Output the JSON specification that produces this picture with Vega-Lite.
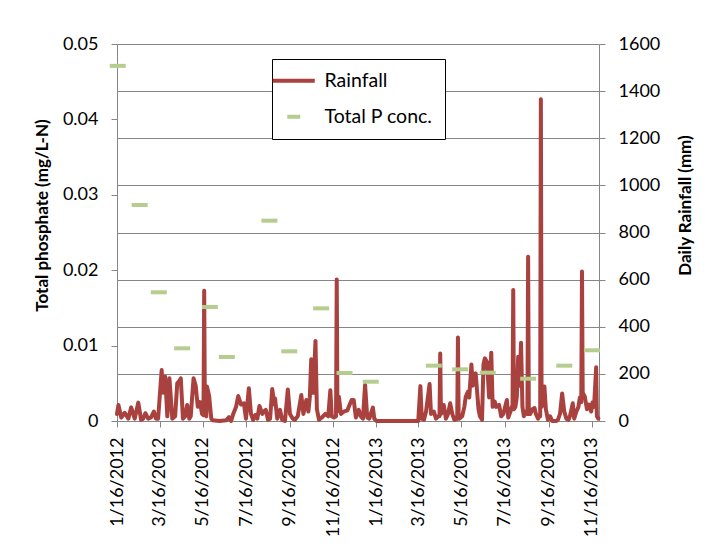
{
  "$schema": "https://vega.github.io/schema/vega-lite/v6.json",
  "autosize": {"type": "none"},
  "padding": {"left": 117, "top": 44, "right": 116, "bottom": 136},
  "width": 482,
  "height": 377,
  "background": "white",
  "config": {
    "font": "Lato",
    "view": {"stroke": null},
    "axis": {"domainColor": "#868686", "tickColor": "#868686", "labelColor": "black", "titleColor": "black", "labelFont": "Lato", "titleFont": "Lato", "labelFontSize": 18, "titleFontSize": 17, "titleFontWeight": "bold", "tickSize": 6, "grid": false}
  },
  "datasets": {
    "rain": [
      {"date": "2012-01-16", "rain": 30}, {"date": "2012-01-18", "rain": 68}, {"date": "2012-01-22", "rain": 15}, {"date": "2012-01-27", "rain": 35},
      {"date": "2012-02-01", "rain": 10}, {"date": "2012-02-05", "rain": 58}, {"date": "2012-02-10", "rain": 10}, {"date": "2012-02-15", "rain": 78},
      {"date": "2012-02-19", "rain": 5}, {"date": "2012-02-22", "rain": 10}, {"date": "2012-02-25", "rain": 33}, {"date": "2012-02-29", "rain": 10},
      {"date": "2012-03-04", "rain": 15}, {"date": "2012-03-08", "rain": 40}, {"date": "2012-03-11", "rain": 10}, {"date": "2012-03-14", "rain": 10},
      {"date": "2012-03-19", "rain": 216}, {"date": "2012-03-21", "rain": 120}, {"date": "2012-03-24", "rain": 188}, {"date": "2012-03-27", "rain": 20},
      {"date": "2012-03-30", "rain": 181}, {"date": "2012-04-03", "rain": 10}, {"date": "2012-04-07", "rain": 20}, {"date": "2012-04-10", "rain": 160},
      {"date": "2012-04-13", "rain": 170}, {"date": "2012-04-15", "rain": 181}, {"date": "2012-04-18", "rain": 10}, {"date": "2012-04-21", "rain": 20},
      {"date": "2012-04-24", "rain": 68}, {"date": "2012-04-27", "rain": 10}, {"date": "2012-04-29", "rain": 20}, {"date": "2012-05-03", "rain": 181},
      {"date": "2012-05-06", "rain": 150}, {"date": "2012-05-09", "rain": 60}, {"date": "2012-05-12", "rain": 80}, {"date": "2012-05-15", "rain": 30},
      {"date": "2012-05-17", "rain": 25}, {"date": "2012-05-18", "rain": 553}, {"date": "2012-05-19", "rain": 30}, {"date": "2012-05-21", "rain": 20},
      {"date": "2012-05-22", "rain": 146}, {"date": "2012-05-25", "rain": 106}, {"date": "2012-05-28", "rain": 10}, {"date": "2012-05-30", "rain": 3},
      {"date": "2012-06-09", "rain": 0}, {"date": "2012-06-18", "rain": 3}, {"date": "2012-06-22", "rain": 16}, {"date": "2012-06-25", "rain": 0},
      {"date": "2012-06-28", "rain": 30}, {"date": "2012-07-02", "rain": 60}, {"date": "2012-07-05", "rain": 106}, {"date": "2012-07-09", "rain": 70},
      {"date": "2012-07-13", "rain": 75}, {"date": "2012-07-16", "rain": 10}, {"date": "2012-07-20", "rain": 139}, {"date": "2012-07-23", "rain": 30},
      {"date": "2012-07-26", "rain": 5}, {"date": "2012-07-29", "rain": 25}, {"date": "2012-08-01", "rain": 10}, {"date": "2012-08-04", "rain": 64},
      {"date": "2012-08-08", "rain": 30}, {"date": "2012-08-10", "rain": 40}, {"date": "2012-08-13", "rain": 47}, {"date": "2012-08-16", "rain": 5},
      {"date": "2012-08-19", "rain": 10}, {"date": "2012-08-22", "rain": 136}, {"date": "2012-08-25", "rain": 70}, {"date": "2012-08-26", "rain": 96},
      {"date": "2012-08-29", "rain": 10}, {"date": "2012-09-02", "rain": 47}, {"date": "2012-09-05", "rain": 5}, {"date": "2012-09-09", "rain": 0},
      {"date": "2012-09-13", "rain": 134}, {"date": "2012-09-16", "rain": 30}, {"date": "2012-09-20", "rain": 10}, {"date": "2012-09-23", "rain": 5},
      {"date": "2012-09-27", "rain": 20}, {"date": "2012-10-02", "rain": 110}, {"date": "2012-10-05", "rain": 30}, {"date": "2012-10-09", "rain": 89},
      {"date": "2012-10-12", "rain": 40}, {"date": "2012-10-14", "rain": 100}, {"date": "2012-10-16", "rain": 262}, {"date": "2012-10-19", "rain": 120},
      {"date": "2012-10-22", "rain": 340}, {"date": "2012-10-24", "rain": 50}, {"date": "2012-10-27", "rain": 5}, {"date": "2012-10-31", "rain": 15},
      {"date": "2012-11-05", "rain": 30}, {"date": "2012-11-09", "rain": 20}, {"date": "2012-11-12", "rain": 131}, {"date": "2012-11-14", "rain": 20},
      {"date": "2012-11-17", "rain": 15}, {"date": "2012-11-20", "rain": 20}, {"date": "2012-11-21", "rain": 601}, {"date": "2012-11-22", "rain": 40},
      {"date": "2012-11-24", "rain": 103}, {"date": "2012-11-27", "rain": 30}, {"date": "2012-12-01", "rain": 40}, {"date": "2012-12-06", "rain": 45},
      {"date": "2012-12-08", "rain": 60}, {"date": "2012-12-12", "rain": 89}, {"date": "2012-12-15", "rain": 89}, {"date": "2012-12-18", "rain": 15},
      {"date": "2012-12-22", "rain": 47}, {"date": "2012-12-25", "rain": 20}, {"date": "2012-12-28", "rain": 10}, {"date": "2012-12-31", "rain": 153},
      {"date": "2013-01-03", "rain": 15}, {"date": "2013-01-06", "rain": 10}, {"date": "2013-01-08", "rain": 30}, {"date": "2013-01-11", "rain": 57},
      {"date": "2013-01-13", "rain": 10}, {"date": "2013-01-16", "rain": 0}, {"date": "2013-02-11", "rain": 0}, {"date": "2013-03-16", "rain": 0},
      {"date": "2013-03-19", "rain": 148}, {"date": "2013-03-21", "rain": 10}, {"date": "2013-03-24", "rain": 5}, {"date": "2013-03-27", "rain": 40},
      {"date": "2013-04-01", "rain": 157}, {"date": "2013-04-03", "rain": 30}, {"date": "2013-04-07", "rain": 40}, {"date": "2013-04-10", "rain": 10},
      {"date": "2013-04-13", "rain": 20}, {"date": "2013-04-15", "rain": 20}, {"date": "2013-04-16", "rain": 287}, {"date": "2013-04-17", "rain": 30},
      {"date": "2013-04-19", "rain": 40}, {"date": "2013-04-21", "rain": 68}, {"date": "2013-04-24", "rain": 10}, {"date": "2013-04-27", "rain": 30},
      {"date": "2013-04-30", "rain": 75}, {"date": "2013-05-03", "rain": 30}, {"date": "2013-05-06", "rain": 5}, {"date": "2013-05-10", "rain": 10},
      {"date": "2013-05-11", "rain": 354}, {"date": "2013-05-12", "rain": 10}, {"date": "2013-05-13", "rain": 10}, {"date": "2013-05-17", "rain": 20},
      {"date": "2013-05-20", "rain": 60}, {"date": "2013-05-22", "rain": 103}, {"date": "2013-05-25", "rain": 124}, {"date": "2013-05-27", "rain": 100},
      {"date": "2013-05-30", "rain": 240}, {"date": "2013-06-01", "rain": 150}, {"date": "2013-06-05", "rain": 202}, {"date": "2013-06-09", "rain": 50},
      {"date": "2013-06-11", "rain": 20}, {"date": "2013-06-14", "rain": 5}, {"date": "2013-06-16", "rain": 240}, {"date": "2013-06-18", "rain": 266},
      {"date": "2013-06-21", "rain": 250}, {"date": "2013-06-24", "rain": 100}, {"date": "2013-06-27", "rain": 290}, {"date": "2013-06-29", "rain": 60},
      {"date": "2013-07-02", "rain": 82}, {"date": "2013-07-04", "rain": 60}, {"date": "2013-07-08", "rain": 68}, {"date": "2013-07-11", "rain": 20},
      {"date": "2013-07-14", "rain": 30}, {"date": "2013-07-19", "rain": 89}, {"date": "2013-07-21", "rain": 15}, {"date": "2013-07-24", "rain": 40},
      {"date": "2013-07-26", "rain": 60}, {"date": "2013-07-27", "rain": 50}, {"date": "2013-07-28", "rain": 556}, {"date": "2013-07-29", "rain": 50},
      {"date": "2013-07-31", "rain": 60}, {"date": "2013-08-02", "rain": 100}, {"date": "2013-08-04", "rain": 273}, {"date": "2013-08-06", "rain": 150},
      {"date": "2013-08-08", "rain": 332}, {"date": "2013-08-10", "rain": 60}, {"date": "2013-08-12", "rain": 20}, {"date": "2013-08-15", "rain": 40},
      {"date": "2013-08-17", "rain": 30}, {"date": "2013-08-18", "rain": 697}, {"date": "2013-08-19", "rain": 30}, {"date": "2013-08-21", "rain": 30},
      {"date": "2013-08-24", "rain": 50}, {"date": "2013-08-27", "rain": 55}, {"date": "2013-08-29", "rain": 30}, {"date": "2013-09-01", "rain": 10},
      {"date": "2013-09-03", "rain": 20}, {"date": "2013-09-04", "rain": 20}, {"date": "2013-09-05", "rain": 1366}, {"date": "2013-09-06", "rain": 60},
      {"date": "2013-09-08", "rain": 100}, {"date": "2013-09-10", "rain": 146}, {"date": "2013-09-12", "rain": 50}, {"date": "2013-09-15", "rain": 5},
      {"date": "2013-09-18", "rain": 20}, {"date": "2013-09-21", "rain": 0}, {"date": "2013-09-27", "rain": 0}, {"date": "2013-09-29", "rain": 5},
      {"date": "2013-10-02", "rain": 30}, {"date": "2013-10-05", "rain": 117}, {"date": "2013-10-08", "rain": 40}, {"date": "2013-10-11", "rain": 10},
      {"date": "2013-10-14", "rain": 5}, {"date": "2013-10-16", "rain": 20}, {"date": "2013-10-20", "rain": 75}, {"date": "2013-10-22", "rain": 10},
      {"date": "2013-10-25", "rain": 40}, {"date": "2013-10-28", "rain": 60}, {"date": "2013-10-30", "rain": 100}, {"date": "2013-11-01", "rain": 80},
      {"date": "2013-11-02", "rain": 634}, {"date": "2013-11-03", "rain": 120}, {"date": "2013-11-06", "rain": 103}, {"date": "2013-11-09", "rain": 50},
      {"date": "2013-11-12", "rain": 70}, {"date": "2013-11-15", "rain": 40}, {"date": "2013-11-17", "rain": 80}, {"date": "2013-11-19", "rain": 60},
      {"date": "2013-11-22", "rain": 228}, {"date": "2013-11-23", "rain": 20}, {"date": "2013-11-25", "rain": 10}
    ],
    "phos": [
      {"date": "2012-01-17", "tp": 0.0471}, {"date": "2012-02-17", "tp": 0.02865}, {"date": "2012-03-15", "tp": 0.01707},
      {"date": "2012-04-17", "tp": 0.00964}, {"date": "2012-05-26", "tp": 0.01512}, {"date": "2012-06-19", "tp": 0.00849},
      {"date": "2012-08-18", "tp": 0.02657}, {"date": "2012-09-15", "tp": 0.00924}, {"date": "2012-10-30", "tp": 0.01494},
      {"date": "2012-12-02", "tp": 0.00637}, {"date": "2013-01-08", "tp": 0.00521}, {"date": "2013-04-07", "tp": 0.00734},
      {"date": "2013-05-14", "tp": 0.00685}, {"date": "2013-06-22", "tp": 0.00641}, {"date": "2013-08-18", "tp": 0.00561},
      {"date": "2013-10-08", "tp": 0.00734}, {"date": "2013-11-16", "tp": 0.00938}
    ]
  },
  "encoding": {
    "x": {
      "field": "date",
      "type": "temporal",
      "scale": {"type": "utc", "domain": [{"year": 2012, "month": 1, "date": 16, "utc": true}, {"year": 2013, "month": 11, "date": 26, "utc": true}]},
      "axis": {
        "title": null,
        "values": [
          {"year": 2012, "month": 1, "date": 16, "utc": true}, {"year": 2012, "month": 3, "date": 16, "utc": true},
          {"year": 2012, "month": 5, "date": 16, "utc": true}, {"year": 2012, "month": 7, "date": 16, "utc": true},
          {"year": 2012, "month": 9, "date": 16, "utc": true}, {"year": 2012, "month": 11, "date": 16, "utc": true},
          {"year": 2013, "month": 1, "date": 16, "utc": true}, {"year": 2013, "month": 3, "date": 16, "utc": true},
          {"year": 2013, "month": 5, "date": 16, "utc": true}, {"year": 2013, "month": 7, "date": 16, "utc": true},
          {"year": 2013, "month": 9, "date": 16, "utc": true}, {"year": 2013, "month": 11, "date": 16, "utc": true}
        ],
        "labelExpr": "utcFormat(datum.value, '%-m/%-d/%Y')",
        "labelAngle": 270,
        "labelAlign": "right",
        "labelBaseline": "middle",
        "labelPadding": 10,
        "labelOverlap": false,
        "labelFlush": false
      }
    }
  },
  "layer": [
    {
      "data": {"name": "rain"},
      "mark": {"type": "line", "strokeWidth": 4, "strokeJoin": "round", "strokeCap": "round", "interpolate": "linear"},
      "encoding": {
        "y": {
          "field": "rain",
          "type": "quantitative",
          "scale": {"domain": [0, 1600], "nice": false},
          "axis": {
            "orient": "right",
            "title": "Daily Rainfall (mm)",
            "values": [0, 200, 400, 600, 800, 1000, 1200, 1400, 1600],
            "format": "d",
            "grid": true,
            "gridColor": "#868686",
            "gridWidth": 1,
            "labelPadding": 13,
            "titleAngle": 270,
            "titleX": 86,
            "titleY": 161,
            "titleAlign": "center",
            "titleBaseline": "middle"
          }
        },
        "color": {
          "datum": "Rainfall",
          "type": "nominal",
          "scale": {"domain": ["Rainfall", "Total P conc."], "range": ["#A9413F", "#B5CD8E"]},
          "legend": {
            "title": null,
            "orient": "none",
            "legendX": 155,
            "legendY": 15,
            "padding": 12,
            "strokeColor": "black",
            "fillColor": "white",
            "symbolType": "stroke",
            "symbolSize": 1764,
            "symbolStrokeWidth": 4,
            "labelFontSize": 19.5,
            "labelFont": "Lato",
            "labelColor": "black",
            "labelOffset": 21,
            "rowPadding": 15,
            "encode": {
              "symbols": {
                "update": {
                  "size": {"signal": "datum.value === 'Rainfall' ? 1764 : 169"},
                  "strokeWidth": {"value": 4},
                  "stroke": {"signal": "datum.value === 'Rainfall' ? '#A9413F' : '#B5CD8E'"}
                }
              }
            }
          }
        }
      }
    },
    {
      "data": {"name": "phos"},
      "mark": {"type": "tick", "orient": "horizontal", "size": 16, "thickness": 4, "opacity": 1},
      "encoding": {
        "y": {
          "field": "tp",
          "type": "quantitative",
          "scale": {"domain": [0, 0.05], "nice": false},
          "axis": {
            "orient": "left",
            "title": "Total phosphate (mg/L-N)",
            "values": [0, 0.01, 0.02, 0.03, 0.04, 0.05],
            "labelExpr": "datum.value == 0 ? '0' : format(datum.value, '.2f')",
            "labelPadding": 13,
            "titleAngle": 270,
            "titleX": -75,
            "titleY": 171,
            "titleAlign": "center",
            "titleBaseline": "middle"
          }
        },
        "color": {"datum": "Total P conc.", "type": "nominal"}
      }
    }
  ],
  "resolve": {"scale": {"y": "independent"}}
}
